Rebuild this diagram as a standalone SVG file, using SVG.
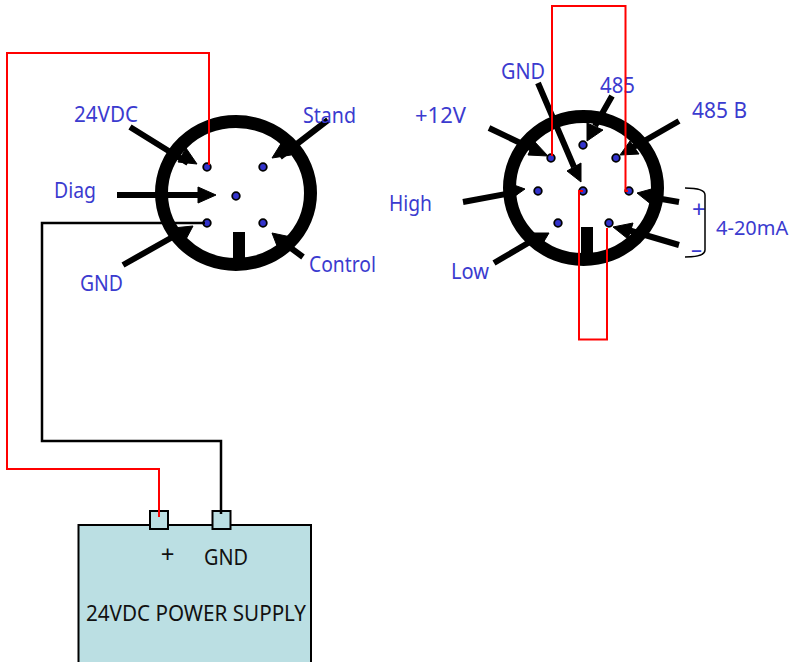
<svg xmlns="http://www.w3.org/2000/svg" width="792" height="662" viewBox="0 0 792 662">
<style>
.ring{fill:none;stroke:#000;stroke-width:13}
.key{fill:#000}
.pin{fill:#3333cc;stroke:#000;stroke-width:1.800}
.sh{stroke:#000;stroke-width:6;fill:none}
.hd{fill:#000;stroke:#000;stroke-width:1}
.red{fill:none;stroke:#f00;stroke-width:2}
.blk{fill:none;stroke:#000;stroke-width:2.500}
.lbl{font-family:"Noto Sans","DejaVu Sans",sans-serif;font-size:22px;fill:#3b3bcf}
.dark{font-family:"Noto Sans","DejaVu Sans",sans-serif;font-size:22px;fill:#111}
.box{fill:#bbdfe3;stroke:#000;stroke-width:2}
</style>
<rect width="792" height="662" fill="#fff"/>
<g id="power-supply">
<rect class="box" x="78.500" y="525" width="232.500" height="140"/>
<rect class="box" x="150" y="511" width="18" height="18"/>
<rect class="box" x="212.500" y="511" width="18" height="18"/>
<text class="dark" x="167.500" y="563" text-anchor="middle" style="font-size:24px">+</text>
<text class="dark" x="204" y="565" textLength="44" lengthAdjust="spacingAndGlyphs">GND</text>
<text class="dark" x="86" y="621" textLength="220" lengthAdjust="spacingAndGlyphs">24VDC POWER SUPPLY</text>
</g>
<g id="connector-left">
<ellipse class="ring" cx="236" cy="193" rx="74.500" ry="71.500"/>
<rect class="key" x="233" y="232" width="12" height="30"/>
<path class="sh" d="M130 127L188 163M328 120L280 157M117 195H200M123 265L185 230M303 257L280 240"/>
<polygon class="hd" points="197,164 186,148 178,162"/>
<polygon class="hd" points="272,158 291,155 282,142"/>
<polygon class="hd" points="216,195 198,187 198,203"/>
<polygon class="hd" points="193,226 173,228 184,243"/>
<polygon class="hd" points="272,233 291,237 279,251"/>
<circle class="pin" cx="207" cy="167" r="3.800"/><circle class="pin" cx="263" cy="167" r="3.800"/><circle class="pin" cx="236" cy="196" r="3.800"/><circle class="pin" cx="207" cy="223" r="3.800"/><circle class="pin" cx="263" cy="223" r="3.800"/>
<text class="lbl" x="74" y="122" textLength="64" lengthAdjust="spacingAndGlyphs">24VDC</text>
<text class="lbl" x="303" y="123" textLength="53" lengthAdjust="spacingAndGlyphs">Stand</text>
<text class="lbl" x="54" y="198" textLength="42" lengthAdjust="spacingAndGlyphs">Diag</text>
<text class="lbl" x="80" y="291" textLength="43" lengthAdjust="spacingAndGlyphs">GND</text>
<text class="lbl" x="309" y="272" textLength="67" lengthAdjust="spacingAndGlyphs">Control</text>
</g>
<g id="connector-right">
<ellipse class="ring" cx="583.500" cy="188" rx="74" ry="71.500"/>
<rect class="key" x="581" y="227" width="12" height="30"/>
<path class="sh" d="M489 128L535 150M538 83L574 167M612 96L595 126M679 121L632 148M463 202L517 192M494 263L540 236M679 202L650 197M679 245L628 230"/>
<polygon class="hd" points="548,156 534,141 528,155"/>
<polygon class="hd" points="581,182 581,163 567,171"/>
<polygon class="hd" points="587,141 587,123 603,130"/>
<polygon class="hd" points="620,155 630,141 639,154"/>
<polygon class="hd" points="525,189 514,185 515,196"/>
<polygon class="hd" points="549,233 532,233 543,243"/>
<polygon class="hd" points="637,193 655,188 652,205"/>
<polygon class="hd" points="613,227 633,223 628,239"/>
<circle class="pin" cx="551" cy="158" r="3.800"/><circle class="pin" cx="583" cy="145" r="3.800"/><circle class="pin" cx="616" cy="158" r="3.800"/><circle class="pin" cx="538" cy="191" r="3.800"/><circle class="pin" cx="583" cy="191" r="3.800"/><circle class="pin" cx="629" cy="191" r="3.800"/><circle class="pin" cx="558" cy="223" r="3.800"/><circle class="pin" cx="609" cy="223" r="3.800"/>
<text class="lbl" x="501" y="79" textLength="44" lengthAdjust="spacingAndGlyphs">GND</text>
<text class="lbl" x="600" y="93" textLength="35" lengthAdjust="spacingAndGlyphs">485</text>
<text class="lbl" x="692" y="118" textLength="55" lengthAdjust="spacingAndGlyphs">485 B</text>
<text class="lbl" x="415" y="123" textLength="51" lengthAdjust="spacingAndGlyphs">+12V</text>
<text class="lbl" x="389" y="211" textLength="43" lengthAdjust="spacingAndGlyphs">High</text>
<text class="lbl" x="451" y="279" textLength="38" lengthAdjust="spacingAndGlyphs">Low</text>
<text class="lbl" x="692" y="218" style="font-size:24px">+</text>
<text class="lbl" x="691" y="257" style="font-size:22px">–</text>
<text class="lbl" x="716" y="235" style="font-size:20px">4-20mA</text>
<path class="blk" style="stroke-width:1.500" d="M685 188Q705 188 705 195V250Q705 257 685 257"/>
</g>
<g id="connectors">
<path class="red" d="M209 165V53H7V469H159V517"/>
<path class="blk" d="M205 223H42V441H221V514"/>
<path class="red" d="M552 156V6H625.500V191H628"/>
<path class="red" d="M583 191H579V339.500H607V228"/>
</g>
</svg>
